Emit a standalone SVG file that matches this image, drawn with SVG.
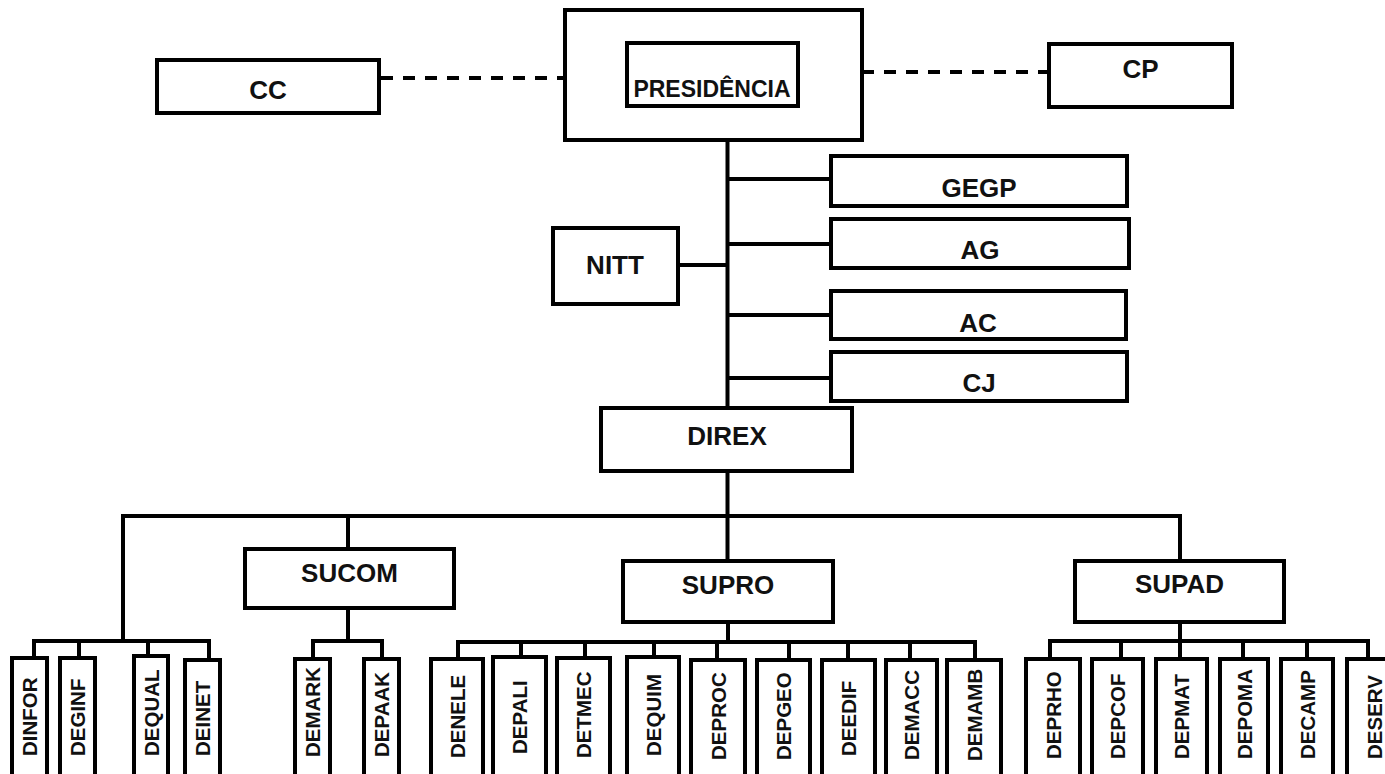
<svg xmlns="http://www.w3.org/2000/svg" width="1385" height="774" viewBox="0 0 1385 774">
<style>
rect{fill:#fff;stroke:#000;stroke-width:4}
.c line,.c path{stroke:#000;stroke-width:4;fill:none}
.c .d{stroke-dasharray:12 10}
text{font-family:"Liberation Sans",Arial,sans-serif;font-weight:bold;fill:#111}
.h{font-size:26px;text-anchor:middle}
.p{font-size:23px;text-anchor:middle}
.v{font-size:20.5px}
</style>
<rect x="0" y="0" width="1385" height="774" style="fill:#fff;stroke:none"/>
<g class="c" id="connectors">
<line class="d" x1="381" y1="78" x2="565" y2="78"/>
<line class="d" x1="862" y1="72" x2="1049" y2="72"/>
<line x1="727.5" y1="140" x2="727.5" y2="407"/>
<line x1="727.5" y1="179" x2="831" y2="179"/>
<line x1="727.5" y1="244" x2="831" y2="244"/>
<line x1="727.5" y1="315" x2="831" y2="315"/>
<line x1="727.5" y1="378" x2="831" y2="378"/>
<line x1="678" y1="265" x2="727.5" y2="265"/>
<line x1="727.5" y1="471" x2="727.5" y2="561"/>
<line x1="121" y1="516" x2="1182" y2="516"/>
<line x1="123" y1="516" x2="123" y2="641"/>
<line x1="348" y1="516" x2="348" y2="549"/>
<line x1="1180" y1="514" x2="1180" y2="561"/>
<path d="M34 658V641H209V658M79 641V658M148 641V656"/>
<path d="M348 608V641M313 659V641H382V659"/>
<path d="M728 622V642M458 659V642H975V660M521 642V657M585 642V658M654 642V657M717 642V660M789 642V660M848 642V660M910 642V660"/>
<path d="M1180 622V641M1050 659V641H1368V659M1121 641V659M1180 641V659M1243 641V659M1307 641V659"/>
</g>
<g id="presidencia"><rect x="565" y="10" width="297" height="130"/><rect x="627" y="43" width="171" height="63"/><text class="p" x="712" y="97">PRESIDÊNCIA</text></g>
<g id="cc"><rect x="157" y="60" width="222" height="53"/><text class="h" x="268" y="99">CC</text></g>
<g id="cp"><rect x="1049" y="44" width="183" height="63"/><text class="h" x="1140.5" y="78">CP</text></g>
<g id="gegp"><rect x="831" y="156" width="296" height="50"/><text class="h" x="979" y="197">GEGP</text></g>
<g id="ag"><rect x="831" y="219" width="298" height="49"/><text class="h" x="980" y="259">AG</text></g>
<g id="ac"><rect x="831" y="291" width="295" height="48"/><text class="h" x="978" y="332">AC</text></g>
<g id="cj"><rect x="831" y="352" width="296" height="49"/><text class="h" x="979" y="392">CJ</text></g>
<g id="nitt"><rect x="553" y="228" width="125" height="76"/><text class="h" x="615" y="274">NITT</text></g>
<g id="direx"><rect x="601" y="408" width="251" height="63"/><text class="h" x="727" y="445">DIREX</text></g>
<g id="sucom"><rect x="245" y="549" width="209" height="59"/><text class="h" x="349.5" y="582">SUCOM</text></g>
<g id="supro"><rect x="623" y="561" width="210" height="61"/><text class="h" x="728" y="594">SUPRO</text></g>
<g id="supad"><rect x="1075" y="561" width="209" height="61"/><text class="h" x="1179.5" y="593">SUPAD</text></g>
<g id="dinfor"><rect x="12" y="658" width="35" height="130"/><text class="v" transform="translate(37,756) rotate(-90)">DINFOR</text></g>
<g id="deginf"><rect x="60" y="658" width="35" height="130"/><text class="v" transform="translate(85,756) rotate(-90)">DEGINF</text></g>
<g id="dequal"><rect x="134" y="656" width="34" height="130"/><text class="v" transform="translate(158.5,756) rotate(-90)">DEQUAL</text></g>
<g id="deinet"><rect x="185" y="660" width="35" height="130"/><text class="v" transform="translate(210,756) rotate(-90)">DEINET</text></g>
<g id="demark"><rect x="295" y="659" width="35" height="130"/><text class="v" transform="translate(320,757) rotate(-90)">DEMARK</text></g>
<g id="depaak"><rect x="364" y="659" width="35" height="130"/><text class="v" transform="translate(389,757) rotate(-90)">DEPAAK</text></g>
<g id="denele"><rect x="431" y="659" width="52" height="130"/><text class="v" transform="translate(464.5,758) rotate(-90)">DENELE</text></g>
<g id="depali"><rect x="493" y="657" width="53" height="130"/><text class="v" transform="translate(527,754) rotate(-90)">DEPALI</text></g>
<g id="detmec"><rect x="557" y="658" width="53" height="130"/><text class="v" transform="translate(591,758) rotate(-90)">DETMEC</text></g>
<g id="dequim"><rect x="627" y="657" width="52" height="130"/><text class="v" transform="translate(660.5,756) rotate(-90)">DEQUIM</text></g>
<g id="deproc"><rect x="691" y="660" width="54" height="130"/><text class="v" transform="translate(725.5,760) rotate(-90)">DEPROC</text></g>
<g id="depgeo"><rect x="757" y="660" width="53" height="130"/><text class="v" transform="translate(791,760) rotate(-90)">DEPGEO</text></g>
<g id="deedif"><rect x="822" y="660" width="53" height="130"/><text class="v" transform="translate(856,756) rotate(-90)">DEEDIF</text></g>
<g id="demacc"><rect x="886" y="660" width="51" height="130"/><text class="v" transform="translate(918.5,760) rotate(-90)">DEMACC</text></g>
<g id="demamb"><rect x="947" y="660" width="54" height="130"/><text class="v" transform="translate(981.5,761) rotate(-90)">DEMAMB</text></g>
<g id="deprho"><rect x="1026" y="659" width="54" height="130"/><text class="v" transform="translate(1060.5,759) rotate(-90)">DEPRHO</text></g>
<g id="depcof"><rect x="1092" y="659" width="51" height="130"/><text class="v" transform="translate(1124.5,759) rotate(-90)">DEPCOF</text></g>
<g id="depmat"><rect x="1156" y="659" width="51" height="130"/><text class="v" transform="translate(1188.5,759) rotate(-90)">DEPMAT</text></g>
<g id="depoma"><rect x="1220" y="659" width="48" height="130"/><text class="v" transform="translate(1251.5,759) rotate(-90)">DEPOMA</text></g>
<g id="decamp"><rect x="1281" y="659" width="52" height="130"/><text class="v" transform="translate(1314.5,759) rotate(-90)">DECAMP</text></g>
<g id="deserv"><rect x="1347" y="659" width="60" height="130"/><text class="v" transform="translate(1382,759) rotate(-90)">DESERV</text></g>
</svg>
